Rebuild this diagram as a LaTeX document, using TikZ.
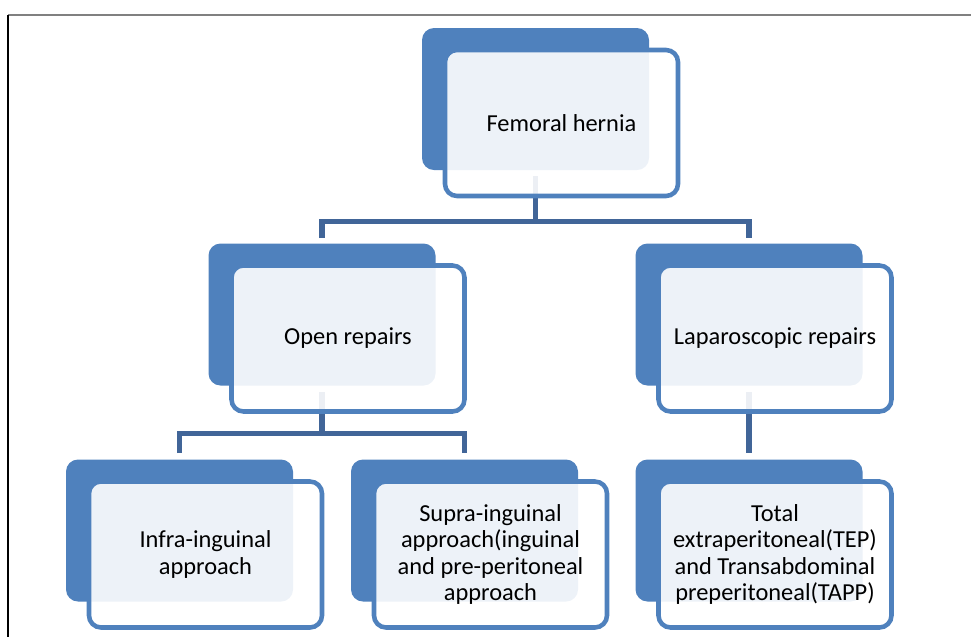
\documentclass[tikz,border=0pt]{standalone}
\usepackage{fontspec}
\setmainfont{Carlito}
\definecolor{cBlue}{RGB}{79,129,189}
\definecolor{cLine}{RGB}{65,101,152}

\begin{document}
\begin{tikzpicture}[x=0.75pt,y=-0.75pt,
        back/.style={rectangle,rounded corners=9pt,fill=cBlue,inner sep=0pt,
                minimum width=170.25pt,minimum height=106.5pt},
        front/.style={rectangle,rounded corners=9pt,draw=cBlue,line width=3.4pt,
                fill=white,fill opacity=0.9,text opacity=1,inner sep=0pt,align=center,
                minimum width=174.75pt,minimum height=109.5pt,
                font=\fontsize{18.3pt}{19.9pt}\selectfont},
        conn/.style={draw=cLine,line width=3.8pt}]
        \useasboundingbox (0,0) rectangle (971,637);
        \draw[gray,line width=1.5pt] (8,15) -- (971,15);
        \draw[black,line width=1.5pt] (8,15) -- (8,637);

        % back boxes
        \node[back] (fem) at (535.5,99) {};
        \node[back] (open) at (322,314.5) {};
        \node[back] (lap) at (749,314.5) {};
        \node[back] (infra) at (179.5,530.5) {};
        \node[back] (supra) at (464.5,530.5) {};
        \node[back] (tot) at (749,530.5) {};

        % connectors
        \draw[conn] ([yshift=-4.5pt]fem.south) -- ++(0,45.5) coordinate (fj);
        \draw[conn] ([yshift=3.75pt]open.north) |- (fj) -| ([yshift=3.75pt]lap.north);
        \draw[conn] ([yshift=-4.5pt]open.south) -- ++(0,42) coordinate (oj);
        \draw[conn] ([yshift=4.5pt]infra.north) |- (oj) -| ([yshift=4.5pt]supra.north);
        \draw[conn] ([yshift=-4.5pt]lap.south) -- ([yshift=4.5pt]tot.north);

        % front boxes
        \node[front] (femT) at (561.5,123) {Femoral hernia};
        \node[front] (openT) at (348,338.5) {Open repairs};
        \node[front] (lapT) at (775,338.5) {Laparoscopic repairs};
        \node[front] (infraT) at (205.5,554.5) {Infra-inguinal\\approach};
        \node[front] (supraT) at (490.5,554.5) {Supra-inguinal\\approach(inguinal\\and pre-peritoneal\\approach};
        \node[front] (totT) at (775,554.5) {Total\\extraperitoneal(TEP)\\and Transabdominal\\preperitoneal(TAPP)};
\end{tikzpicture}
\end{document}
